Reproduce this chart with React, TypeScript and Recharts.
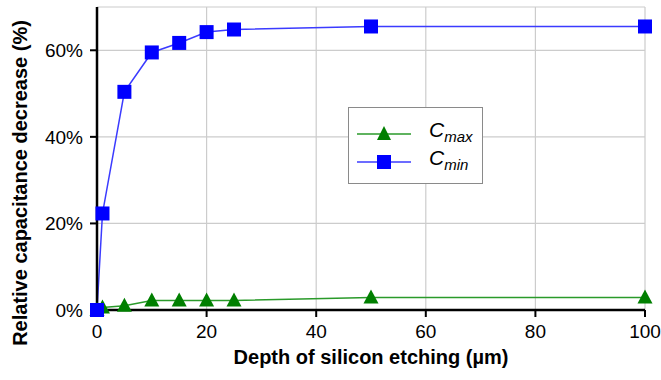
import React from "react";
import { LineChart, Line, XAxis, YAxis, CartesianGrid, Label } from "recharts";

const depths = [0, 1, 5, 10, 15, 20, 25, 50, 100];
const cMax = [0, 0.6, 1.0, 2.2, 2.2, 2.2, 2.2, 2.9, 2.9];
const cMin = [0, 22.3, 50.4, 59.5, 61.7, 64.2, 64.8, 65.5, 65.5];
const xTicks = [0, 20, 40, 60, 80, 100];
const yTicks = [0, 20, 40, 60];

const data = depths.map((d, i) => ({ depth: d, cMax: cMax[i], cMin: cMin[i] }));

const FONT = "'Liberation Sans', Arial, sans-serif";

const Square = (props: any) => {
  const { cx, cy } = props;
  if (cx == null || cy == null) return null;
  return <rect x={cx - 7} y={cy - 7} width={14} height={14} fill="#0000ff" />;
};

const Triangle = (props: any) => {
  const { cx, cy } = props;
  if (cx == null || cy == null) return null;
  return (
    <polygon
      points={`${cx},${cy - 8} ${cx - 7.5},${cy + 6} ${cx + 7.5},${cy + 6}`}
      fill="#007f00"
    />
  );
};

const legendItems = [
  { key: "max", color: "#2a9a2a", marker: "tri" },
  { key: "min", color: "#3b3bff", marker: "sq" },
];

// legend sits inside the plot, so it is drawn as an overlay
const LegendBox = () => (
  <div
    style={{
      position: "absolute",
      left: 348,
      top: 107,
      width: 135,
      height: 77,
      border: "1px solid #8a8a8a",
      background: "#fff",
      boxSizing: "border-box",
      paddingTop: 12,
    }}
  >
    {legendItems.map((it) => (
      <div key={it.key} style={{ display: "flex", alignItems: "center", height: 28 }}>
        <svg width={80} height={20}>
          <line x1={8} x2={62} y1={10} y2={10} stroke={it.color} strokeWidth={1.5} />
          {it.marker === "tri" ? (
            <polygon points="35,2 28,16 42,16" fill="#007f00" />
          ) : (
            <rect x={28} y={3} width={14} height={14} fill="#0000ff" />
          )}
        </svg>
        <span style={{ fontFamily: FONT, fontStyle: "italic", fontSize: 21, color: "#000", lineHeight: "20px" }}>
          C<sub style={{ fontSize: 15 }}>{it.key}</sub>
        </span>
      </div>
    ))}
  </div>
);

const tickStyle = { fill: "#000", fontSize: 19, fontFamily: FONT };
const titleStyle = { fill: "#000", fontSize: 20, fontWeight: "bold" as const, fontFamily: FONT };

export default function App() {
  return (
    <div style={{ position: "absolute", left: 0, top: 0, width: 661, height: 380, background: "#fff" }}>
      <LineChart
        width={661}
        height={380}
        data={data}
        margin={{ top: 7, right: 16, left: 0, bottom: 0 }}
      >
        <CartesianGrid stroke="#cccccc" strokeWidth={1.2} />
        <XAxis
          dataKey="depth"
          type="number"
          domain={[0, 100]}
          ticks={xTicks}
          height={70}
          axisLine={{ stroke: "#000", strokeWidth: 2.5 }}
          tickLine={{ stroke: "#000", strokeWidth: 2 }}
          tickSize={7}
          tickMargin={8}
          tick={tickStyle}
        >
          <Label
            content={(p: any) => (
              <text
                x={p.viewBox.x + p.viewBox.width / 2}
                y={364}
                textAnchor="middle"
                style={titleStyle}
              >
                Depth of silicon etching (µm)
              </text>
            )}
          />
        </XAxis>
        <XAxis
          xAxisId="top"
          orientation="top"
          dataKey="depth"
          type="number"
          domain={[0, 100]}
          height={0}
          tick={false}
          tickLine={false}
          axisLine={{ stroke: "#000", strokeWidth: 2.5 }}
        />
        <YAxis
          type="number"
          domain={[0, 70]}
          ticks={yTicks}
          width={97}
          tickFormatter={(v: number) => `${v}%`}
          axisLine={{ stroke: "#000", strokeWidth: 2.5 }}
          tickLine={{ stroke: "#000", strokeWidth: 2 }}
          tickSize={7}
          tickMargin={7}
          tick={tickStyle}
        >
          <Label
            content={() => (
              <text
                x={27}
                y={183}
                transform="rotate(-90 27 183)"
                textAnchor="middle"
                style={titleStyle}
              >
                Relative capacitance decrease (%)
              </text>
            )}
          />
        </YAxis>
        <YAxis
          yAxisId="right"
          orientation="right"
          type="number"
          domain={[0, 70]}
          width={0}
          tick={false}
          tickLine={false}
          axisLine={{ stroke: "#000", strokeWidth: 2.5 }}
        />
        <Line
          dataKey="cMax"
          stroke="#2a9a2a"
          strokeWidth={1.5}
          dot={<Triangle />}
          activeDot={false}
          isAnimationActive={false}
        />
        <Line
          dataKey="cMin"
          stroke="#3b3bff"
          strokeWidth={1.5}
          dot={<Square />}
          activeDot={false}
          isAnimationActive={false}
        />
      </LineChart>
      <LegendBox />
    </div>
  );
}
